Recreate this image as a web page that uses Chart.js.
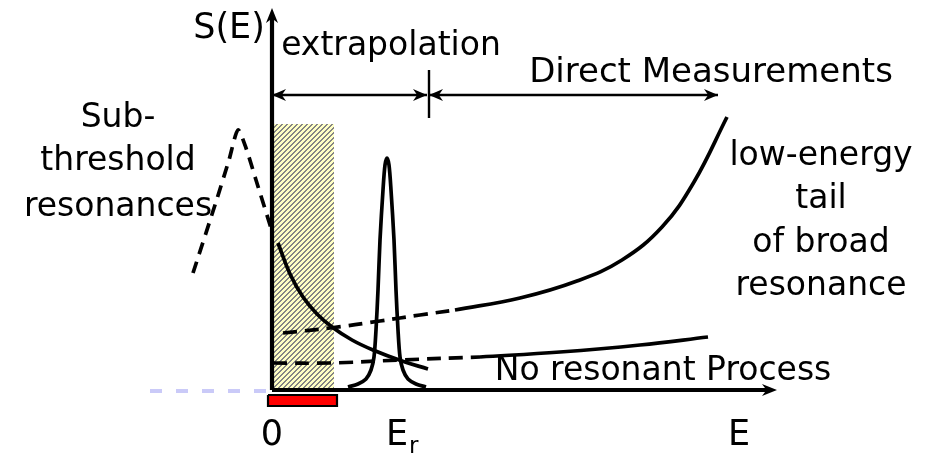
<!DOCTYPE html>
<html>
<head>
<meta charset="utf-8">
<script src="https://cdn.jsdelivr.net/npm/chart.js@4/dist/chart.umd.min.js"></script>
<style>
  html, body { margin:0; padding:0; background:#fff; }
  #wrap { width:932px; height:455px; }
</style>
</head>
<body>
<div id="wrap"><canvas id="c" width="932" height="455"></canvas></div>
<script>
/* S(E) sketch — energy (x) vs astrophysical factor (y), arbitrary units */

const E_MIN = -27.2, E_MAX = 66.0;
const S_MIN = -6.5,  S_MAX = 39.0;

// sub-threshold resonance (dashed)
const subE = [-7.9, -5.7, -4.3, -3.4, -2.6, -1.6, -0.1];
const subS = [11.7, 18.5, 23.0, 26.0, 24.2, 21.0, 16.2];

// low energy falling curve (solid)
const fallE = [0.6, 1.8, 3.1, 4.5, 6.0, 8.0, 10.1, 13.0, 15.6];
const fallS = [14.7, 11.6, 9.3, 7.6, 6.3, 5.0, 4.0, 2.9, 2.1];

// tail of broad resonance: extrapolated part + measured part
const tailExtE = [1.1, 5.8, 10.8, 14.8, 18.3];
const tailExtS = [5.7, 6.2, 6.9, 7.5, 8.0];
const tailE = [18.3, 24.8, 30.5, 35.0, 39.0, 42.2, 45.5];
const tailS = [8.0, 9.2, 10.9, 13.0, 16.3, 20.8, 27.3];

// non resonant process: extrapolated + measured
const nrExtE = [0.1, 5.8, 12.8, 20.8];
const nrExtS = [2.7, 2.7, 3.0, 3.3];
const nrE = [20.8, 28.8, 36.8, 43.6];
const nrS = [3.3, 3.8, 4.5, 5.3];

// narrow resonance at Er
const peakE = [7.6, 8.6, 9.4, 9.9, 10.2, 10.4, 10.6, 10.8, 11.1, 11.3, 11.5,
               11.7, 11.9, 12.2, 12.4, 12.6, 12.8, 13.1, 13.6, 14.4, 15.4];
const peakS = [0.3, 0.6, 1.1, 2.0, 3.3, 6.0, 10.0, 15.0, 20.0, 22.5, 23.2,
               22.5, 20.0, 15.0, 10.0, 6.0, 3.3, 2.0, 1.1, 0.6, 0.3];

// ranges
const hatchE = [0.1, 6.2];    const hatchTop = 26.6;
const redE   = [-0.4, 6.5];   const redS = [-0.5, -1.6];
const blueE  = [-12.2, 0];    const blueS = -0.1;
const yAxisTop = 38.2;        const xAxisEnd = 50.5;
const extrapE = [0, 15.5];    const directE = [15.7, 44.6];  const arrowS = 29.5;
const sepE = 15.7;            const sepS = [27.2, 32.0];

// text
const labelText = ['S(E)', 'extrapolation', 'Direct Measurements', 'Sub-', 'threshold', 'resonances',
                   'low-energy', 'tail', 'of broad', 'resonance', 'No resonant Process'];
const labelE = [-4.3, 11.9, 43.9, -15.4, -15.4, -15.4, 54.9, 54.9, 54.9, 54.9, 39.1];
const labelS = [35.2, 33.5, 30.8, 26.3, 22.0, 17.4, 22.5, 18.2, 13.8, 9.5, 1.0];
const labelPx = [35, 33, 34, 33, 33, 33, 33, 33, 33, 33, 33];

const tickE   = [0, 12.5, 46.7];
const tickTxt = ['0', 'E', 'E'];
const tickSub = ['', 'r', ''];
const tickS   = -5.5;

const FONT = '"DejaVu Sans", sans-serif';
const pts = (xs, ys) => xs.map((x, i) => ({ x, y: ys[i] }));

/* -------- hatch pattern: crisp "/" stripes -------- */
function hatch() {
  const n = 5;
  const p = document.createElement('canvas');
  p.width = n; p.height = n;
  const g = p.getContext('2d');
  for (let i = 0; i < n; i++) for (let j = 0; j < n; j++) {
    g.fillStyle = ((i + j) % n) < 2 ? '#858585' : '#ffffc4';
    g.fillRect(i, j, 1, 1);
  }
  return g.createPattern(p, 'repeat');
}

function ds(data, o) {
  return Object.assign({
    data, borderColor:'#000', borderWidth:3.7, pointRadius:0, fill:false,
    tension:0.4, borderCapStyle:'butt', borderJoinStyle:'round',
  }, o);
}

/* -------- arrowheads + text -------- */
function arrowHead(ctx, x, y, ang, len, half) {
  ctx.save();
  ctx.translate(x, y);
  ctx.rotate(ang);
  ctx.beginPath();
  ctx.moveTo(0, 0);
  ctx.lineTo(-len, -half);
  ctx.lineTo(-len * 0.7, 0);
  ctx.lineTo(-len, half);
  ctx.closePath();
  ctx.fill();
  ctx.restore();
}

const decor = {
  id: 'decor',
  afterDatasetsDraw(chart) {
    const { ctx, scales:{ x, y } } = chart;
    const px = v => x.getPixelForValue(v), py = v => y.getPixelForValue(v);
    ctx.save();
    ctx.fillStyle = '#000';
    // axis arrows
    arrowHead(ctx, px(0), py(yAxisTop), -Math.PI/2, 15, 6);
    arrowHead(ctx, px(xAxisEnd), py(0), 0, 15, 6);
    // range arrows
    arrowHead(ctx, px(extrapE[0]), py(arrowS), Math.PI, 14, 6);
    arrowHead(ctx, px(extrapE[1]), py(arrowS), 0, 14, 6);
    arrowHead(ctx, px(directE[0]), py(arrowS), Math.PI, 14, 6);
    arrowHead(ctx, px(directE[1]), py(arrowS), 0, 14, 6);

    ctx.textAlign = 'center';
    ctx.textBaseline = 'alphabetic';
    labelText.forEach((t, i) => {
      ctx.font = labelPx[i] + 'px ' + FONT;
      ctx.fillText(t, px(labelE[i]), py(labelS[i]));
    });

    tickTxt.forEach((t, i) => {
      ctx.font = '35px ' + FONT;
      const w = ctx.measureText(t).width;
      ctx.fillText(t, px(tickE[i]), py(tickS));
      if (tickSub[i]) {
        ctx.font = '23px ' + FONT;
        ctx.textAlign = 'left';
        ctx.fillText(tickSub[i], px(tickE[i]) + w / 2 + 1, py(tickS) + 8);
        ctx.textAlign = 'center';
      }
    });
    ctx.restore();
  }
};

new Chart(document.getElementById('c'), {
  type: 'line',
  data: { datasets: [
    // backgrounds
    ds(pts(hatchE, [hatchTop, hatchTop]), { borderWidth:0, tension:0, fill:'origin', backgroundColor:hatch(), order:20 }),
    ds(pts(redE, [redS[0], redS[0]]), { borderWidth:0, tension:0, fill:{ value:redS[1] }, backgroundColor:'#ff0000', order:19 }),
    ds(pts([redE[0], redE[1], redE[1], redE[0], redE[0]], [redS[0], redS[0], redS[1], redS[1], redS[0]]),
       { borderWidth:2.2, tension:0, borderJoinStyle:'miter', order:18 }),
    ds(pts(blueE, [blueS, blueS]), { borderColor:'#cacaf8', borderWidth:4, tension:0, borderDash:[12,14], order:17 }),
    // curves
    ds(pts(subE, subS), { borderDash:[12,8], tension:0.25, order:10 }),
    ds(pts(fallE, fallS), { order:9 }),
    ds(pts(tailExtE, tailExtS), { borderDash:[14,8], order:9 }),
    ds(pts(tailE, tailS), { order:9 }),
    ds(pts(nrExtE, nrExtS), { borderDash:[14,8], order:9 }),
    ds(pts(nrE, nrS), { order:9 }),
    ds(pts(peakE, peakS), { tension:0.3, order:9 }),
    // axes and range markers
    ds(pts([0, 0], [0, yAxisTop - 1]), { borderWidth:4.2, tension:0, order:1 }),
    ds(pts([0, xAxisEnd - 1], [0, 0]), { borderWidth:4.2, tension:0, order:1 }),
    ds(pts(extrapE, [arrowS, arrowS]), { borderWidth:2.6, tension:0, order:1 }),
    ds(pts(directE, [arrowS, arrowS]), { borderWidth:2.6, tension:0, order:1 }),
    ds(pts([sepE, sepE], sepS), { borderWidth:2.4, tension:0, order:1 }),
  ]},
  options: {
    responsive:false,
    animation:false,
    layout:{ padding:0 },
    plugins:{ legend:{ display:false }, tooltip:{ enabled:false } },
    scales:{
      x:{ type:'linear', min:E_MIN, max:E_MAX, display:false },
      y:{ type:'linear', min:S_MIN, max:S_MAX, display:false },
    },
  },
  plugins:[decor],
});
</script>
</body>
</html>
